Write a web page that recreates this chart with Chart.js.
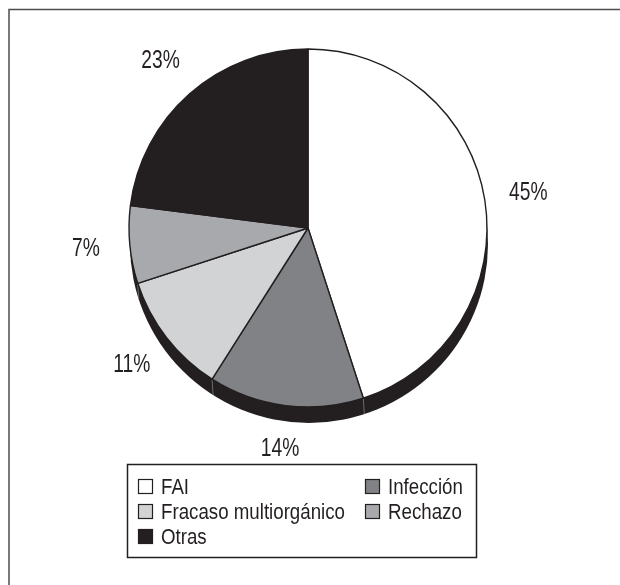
<!DOCTYPE html>
<html>
<head>
<meta charset="utf-8">
<script src="https://cdn.jsdelivr.net/npm/chart.js@4"></script>
<style>
    html, body { margin: 0; padding: 0; background: #fff; }
    #wrap { width: 620px; height: 585px; position: relative; }
</style>
</head>
<body>
<div id="wrap"><canvas id="chart" width="620" height="585"></canvas></div>
<script>
// data
let categories = ['FAI', 'Infección', 'Fracaso multiorgánico', 'Rechazo', 'Otras'];
let percentages = [45, 14, 11, 7, 23];
let sliceColors = ['#ffffff', '#808285', '#d1d3d4', '#a7a9ac', '#231f20'];

let ink = '#231f20';
let fontFamily = '"Liberation Sans", Arial, sans-serif';

// condensed look: squeeze the text horizontally
function narrowText(ctx, text, x, y, align, squeeze) {
    ctx.save();
    ctx.translate(x, y);
    ctx.scale(squeeze, 1);
    ctx.textAlign = align;
    ctx.fillText(text, 0, 0);
    ctx.restore();
}

// frame round the figure (only left and top edges are visible)
let framePlugin = {
    id: 'frame',
    beforeDraw: function(chart) {
        let ctx = chart.ctx;
        ctx.save();
        ctx.fillStyle = '#fff';
        ctx.fillRect(0, 0, chart.width, chart.height);
        ctx.strokeStyle = '#4d4d4d';
        ctx.lineWidth = 1.5;
        ctx.beginPath();
        ctx.moveTo(9, chart.height);
        ctx.lineTo(9, 9.5);
        ctx.lineTo(chart.width, 9.5);
        ctx.stroke();
        ctx.restore();
    }
};

// dark "3d" rim under the pie
let shadowPlugin = {
    id: 'shadow',
    beforeDatasetsDraw: function(chart) {
        let meta = chart.getDatasetMeta(0);
        if (!meta.data.length) return;
        let arc = meta.data[0];
        let cx = arc.x, cy = arc.y, r = arc.outerRadius;
        let dx = 1, dy = 16;
        let ctx = chart.ctx;
        ctx.save();
        ctx.fillStyle = ink;
        ctx.beginPath();
        ctx.arc(cx + dx, cy + dy, r, 0, Math.PI * 2);
        ctx.fill();
        // faint slice edges running down the rim
        ctx.strokeStyle = '#8a8a8a';
        ctx.lineWidth = 0.7;
        meta.data.forEach(function(el) {
            let a = el.startAngle;
            let px = cx + r * Math.cos(a), py = cy + r * Math.sin(a);
            ctx.beginPath();
            ctx.moveTo(px, py);
            ctx.lineTo(px + dx, py + dy);
            ctx.stroke();
        });
        ctx.restore();
    }
};

// percentage labels outside each slice
let labelPlugin = {
    id: 'pctLabels',
    afterDatasetsDraw: function(chart) {
        let meta = chart.getDatasetMeta(0);
        let ctx = chart.ctx;
        ctx.save();
        ctx.fillStyle = ink;
        ctx.font = '25px ' + fontFamily;
        ctx.textBaseline = 'middle';
        meta.data.forEach(function(el, i) {
            let mid = (el.startAngle + el.endAngle) / 2;
            let rr = el.outerRadius + 44;
            narrowText(ctx, percentages[i] + '%', el.x + rr * Math.cos(mid), el.y + rr * Math.sin(mid), 'center', 0.77);
        });
        ctx.restore();
    }
};

// boxed legend in two columns
let legendPlugin = {
    id: 'boxLegend',
    afterDraw: function(chart) {
        let ctx = chart.ctx;
        let left = 127, top = 464, w = 349, h = 93;
        let colX = [138, 365];
        let rowY = [487, 512, 537];
        ctx.save();
        ctx.fillStyle = '#fff';
        ctx.fillRect(left, top, w, h);
        ctx.strokeStyle = ink;
        ctx.lineWidth = 1.5;
        ctx.strokeRect(left + 0.5, top + 0.5, w, h);
        ctx.font = '22px ' + fontFamily;
        ctx.textBaseline = 'middle';
        categories.forEach(function(name, i) {
            let x = colX[i % 2];
            let y = rowY[Math.floor(i / 2)];
            ctx.fillStyle = sliceColors[i];
            ctx.fillRect(x, y - 8, 15, 15);
            ctx.strokeStyle = ink;
            ctx.lineWidth = 1.2;
            ctx.strokeRect(x + 0.5, y - 7.5, 14, 14);
            ctx.fillStyle = ink;
            narrowText(ctx, name, x + 23, y + 1, 'left', 0.85);
        });
        ctx.restore();
    }
};

let pieChart = new Chart(document.getElementById('chart'), {
    type: 'pie',
    data: {
        labels: categories,
        datasets: [{
            data: percentages,
            backgroundColor: sliceColors,
            borderColor: ink,
            borderWidth: 1.4,
        }],
    },
    options: {
        responsive: false,
        animation: false,
        radius: 179,
        layout: {
            padding: { left: 108, right: 112, top: 39, bottom: 168 }
        },
        plugins: {
            legend: { display: false },
            tooltip: { enabled: false },
        }
    },
    plugins: [framePlugin, shadowPlugin, labelPlugin, legendPlugin]
});
</script>
</body>
</html>
